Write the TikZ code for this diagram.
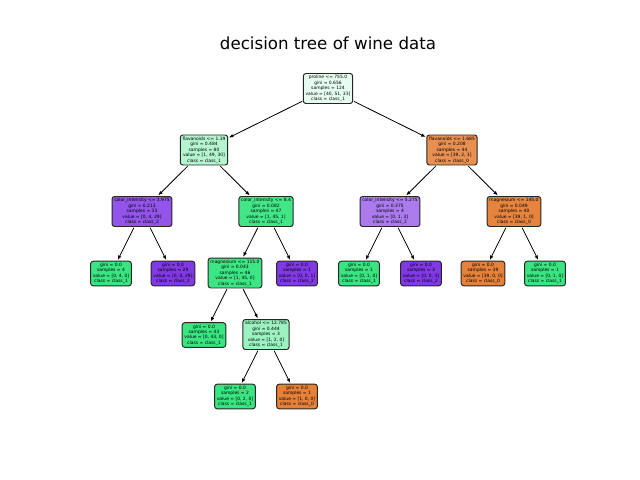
\documentclass[tikz,border=0pt]{standalone}
\usepackage{fontspec}
\setmainfont{DejaVu Sans}
\usetikzlibrary{arrows.meta}
\definecolor{cgreen}{RGB}{57,229,129}
\definecolor{cpurple}{RGB}{129,57,229}
\definecolor{corange}{RGB}{229,129,57}
\definecolor{croot}{RGB}{229,252,239}
\definecolor{cla}{RGB}{180,245,207}
\definecolor{clb}{RGB}{232,144,81}
\definecolor{cca}{RGB}{146,84,233}
\definecolor{ccb}{RGB}{66,230,135}
\definecolor{ccc}{RGB}{171,123,238}
\definecolor{ccd}{RGB}{230,132,62}
\definecolor{cmg}{RGB}{61,230,132}
\definecolor{calc}{RGB}{156,242,192}
\tikzset{
  tn/.style={draw=black!85, line width=0.7pt, rounded corners=1.8pt, align=center,
    font=\fontsize{3.2}{3.9}\selectfont, inner xsep=1.6pt, inner ysep=1.4pt},
  edge/.style={-{Latex[length=3.2pt,width=2.6pt]}, line width=0.6pt, shorten >=0.6pt, shorten <=0.6pt}
}
\begin{document}
\begin{tikzpicture}[x=0.72pt,y=-0.72pt]
\useasboundingbox (0,0) rectangle (640,480);
\node[font=\fontsize{12}{14}\selectfont] (title) at (328,43) {decision tree of wine data};
\node[tn, fill=croot] (r) at (328,88.5) {proline <= 755.0\\gini = 0.656\\samples = 124\\value = [40, 51, 33]\\class = class\_1};
\node[tn, fill=cla] (a) at (204,150) {flavanoids <= 1.39\\gini = 0.484\\samples = 80\\value = [1, 49, 30]\\class = class\_1};
\node[tn, fill=clb] (b) at (452,150) {flavanoids <= 1.685\\gini = 0.208\\samples = 44\\value = [39, 2, 3]\\class = class\_0};
\node[tn, fill=cca] (aa) at (142,211.5) {color\_intensity <= 3.975\\gini = 0.213\\samples = 33\\value = [0, 4, 29]\\class = class\_2};
\node[tn, fill=ccb] (ab) at (266,211.5) {color\_intensity <= 8.4\\gini = 0.082\\samples = 47\\value = [1, 45, 1]\\class = class\_1};
\node[tn, fill=ccc] (ba) at (390,211.5) {color\_intensity <= 5.275\\gini = 0.375\\samples = 4\\value = [0, 1, 3]\\class = class\_2};
\node[tn, fill=ccd] (bb) at (514,211.5) {magnesium <= 145.0\\gini = 0.049\\samples = 40\\value = [39, 1, 0]\\class = class\_0};
\node[tn, fill=cgreen] (aaa) at (111,273.5) {gini = 0.0\\samples = 4\\value = [0, 4, 0]\\class = class\_1};
\node[tn, fill=cpurple] (aab) at (173,273.5) {gini = 0.0\\samples = 29\\value = [0, 0, 29]\\class = class\_2};
\node[tn, fill=cmg] (aba) at (235,273) {magnesium <= 115.0\\gini = 0.043\\samples = 46\\value = [1, 45, 0]\\class = class\_1};
\node[tn, fill=cpurple] (abb) at (297,273.5) {gini = 0.0\\samples = 1\\value = [0, 0, 1]\\class = class\_2};
\node[tn, fill=cgreen] (baa) at (359,273.5) {gini = 0.0\\samples = 1\\value = [0, 1, 0]\\class = class\_1};
\node[tn, fill=cpurple] (bab) at (421,273.5) {gini = 0.0\\samples = 3\\value = [0, 0, 3]\\class = class\_2};
\node[tn, fill=corange] (bba) at (483,273.5) {gini = 0.0\\samples = 39\\value = [39, 0, 0]\\class = class\_0};
\node[tn, fill=cgreen] (bbb) at (545,273.5) {gini = 0.0\\samples = 1\\value = [0, 1, 0]\\class = class\_1};
\node[tn, fill=cgreen] (abaa) at (204,335) {gini = 0.0\\samples = 43\\value = [0, 43, 0]\\class = class\_1};
\node[tn, fill=calc] (abab) at (266,334.5) {alcohol <= 12.785\\gini = 0.444\\samples = 3\\value = [1, 2, 0]\\class = class\_1};
\node[tn, fill=cgreen] (ababa) at (235,396.5) {gini = 0.0\\samples = 2\\value = [0, 2, 0]\\class = class\_1};
\node[tn, fill=corange] (ababb) at (297,396.5) {gini = 0.0\\samples = 1\\value = [1, 0, 0]\\class = class\_0};
\draw[edge] (r) -- (a);
\draw[edge] (r) -- (b);
\draw[edge] (a) -- (aa);
\draw[edge] (a) -- (ab);
\draw[edge] (b) -- (ba);
\draw[edge] (b) -- (bb);
\draw[edge] (aa) -- (aaa);
\draw[edge] (aa) -- (aab);
\draw[edge] (ab) -- (aba);
\draw[edge] (ab) -- (abb);
\draw[edge] (ba) -- (baa);
\draw[edge] (ba) -- (bab);
\draw[edge] (bb) -- (bba);
\draw[edge] (bb) -- (bbb);
\draw[edge] (aba) -- (abaa);
\draw[edge] (aba) -- (abab);
\draw[edge] (abab) -- (ababa);
\draw[edge] (abab) -- (ababb);
\end{tikzpicture}
\end{document}
